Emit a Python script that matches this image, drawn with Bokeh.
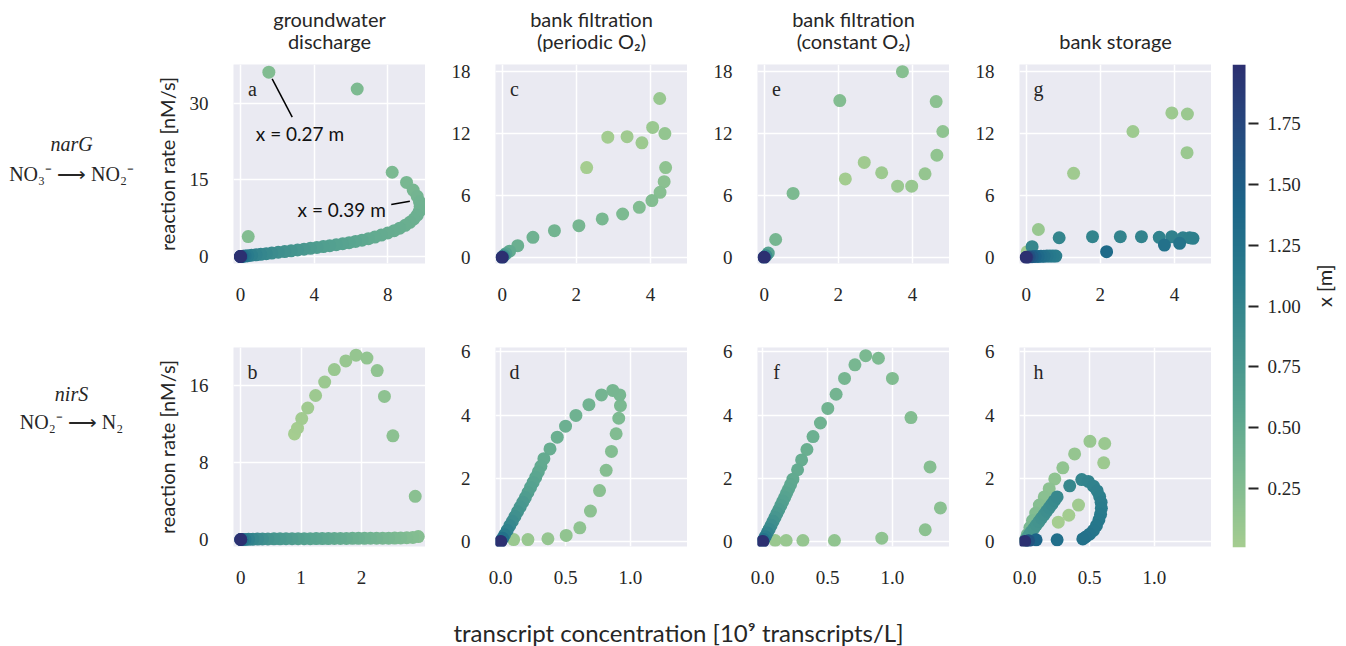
import numpy as np
from bokeh.plotting import figure
from bokeh.layouts import row, column
from bokeh.models import Range1d, LinearColorMapper, ColumnDataSource, FixedTicker, NumeralTickFormatter
from bokeh.core.properties import value
from bokeh.embed import file_html
from bokeh.resources import INLINE

# ---------------- data ----------------
# a: narG, groundwater discharge
a_conc = [0.42, 1.54, 6.34, 8.24, 9.02, 9.38, 9.6, 9.72, 9.76, 9.72,
          9.6, 9.42, 9.2, 8.95, 8.65, 8.35, 8.0, 7.65, 7.3, 6.95,
          6.6, 6.25, 5.9, 5.55, 5.2, 4.85, 4.5, 4.15, 3.8, 3.45,
          3.1, 2.75, 2.4, 2.05, 1.7, 1.4, 1.1, 0.85, 0.6, 0.4,
          0.25, 0.14, 0.07, 0.03, 0.0, 0.0, 0.0, 0.0]
a_rate = [3.9, 36.1, 32.8, 16.5, 14.5, 13.0, 11.8, 10.7, 9.8, 8.9,
          8.1, 7.35, 6.7, 6.1, 5.55, 5.05, 4.6, 4.2, 3.8, 3.5,
          3.2, 2.95, 2.7, 2.5, 2.3, 2.12, 1.95, 1.78, 1.6, 1.43,
          1.27, 1.12, 0.97, 0.83, 0.68, 0.55, 0.43, 0.33, 0.23, 0.15,
          0.09, 0.05, 0.02, 0.01, 0.0, 0.0, 0.0, 0.0]
a_x = [0.25, 0.27, 0.29, 0.31, 0.33, 0.35, 0.37, 0.39, 0.40, 0.41,
       0.42, 0.43, 0.44, 0.45, 0.46, 0.47, 0.48, 0.49, 0.50, 0.52,
       0.54, 0.56, 0.58, 0.60, 0.62, 0.64, 0.66, 0.69, 0.72, 0.75,
       0.78, 0.81, 0.84, 0.87, 0.91, 0.95, 0.99, 1.03, 1.08, 1.13,
       1.19, 1.26, 1.34, 1.43, 1.55, 1.70, 1.85, 1.99]

# b: nirS, groundwater discharge
b_conc = [0.89, 0.94, 1.01, 1.11, 1.24, 1.39, 1.55, 1.74, 1.91, 2.09,
          2.26, 2.38, 2.52, 2.89, 2.94, 2.85, 2.75, 2.65, 2.55, 2.45,
          2.35, 2.25, 2.15, 2.05, 1.95, 1.85, 1.75, 1.65, 1.55, 1.45,
          1.35, 1.25, 1.15, 1.05, 0.95, 0.85, 0.75, 0.65, 0.55, 0.45,
          0.36, 0.28, 0.2, 0.13, 0.07, 0.03, 0.0, 0.0, 0.0]
b_rate = [11.0, 11.6, 12.6, 13.7, 15.0, 16.4, 17.7, 18.6, 19.2, 18.9,
          17.6, 14.9, 10.8, 4.5, 0.3, 0.22, 0.18, 0.16, 0.15, 0.14,
          0.14, 0.13, 0.13, 0.12, 0.12, 0.12, 0.11, 0.11, 0.11, 0.10,
          0.10, 0.10, 0.09, 0.09, 0.09, 0.08, 0.08, 0.07, 0.07, 0.06,
          0.05, 0.04, 0.03, 0.02, 0.01, 0.0, 0.0, 0.0, 0.0]
b_x = [0.01, 0.025, 0.04, 0.055, 0.07, 0.085, 0.1, 0.115, 0.13, 0.145,
       0.16, 0.175, 0.19, 0.21, 0.23, 0.25, 0.27, 0.29, 0.31, 0.33,
       0.35, 0.37, 0.39, 0.41, 0.43, 0.45, 0.47, 0.49, 0.51, 0.53,
       0.55, 0.57, 0.59, 0.62, 0.65, 0.68, 0.71, 0.74, 0.78, 0.82,
       0.87, 0.92, 0.98, 1.05, 1.13, 1.23, 1.4, 1.7, 1.99]

# c: narG, bank filtration (periodic O2)
c_conc = [2.28, 2.85, 3.37, 3.77, 4.06, 4.25, 4.39, 4.41, 4.37, 4.26, 4.04, 3.70,
          3.25, 2.70, 2.07, 1.41, 0.83, 0.42, 0.2, 0.1, 0.05, 0.02, 0.0, 0.0]
c_rate = [8.7, 11.65, 11.7, 11.1, 12.6, 15.4, 12.0, 8.7, 7.34, 6.3, 5.5, 4.85,
          4.2, 3.72, 3.07, 2.58, 1.94, 1.13, 0.6, 0.35, 0.18, 0.07, 0.0, 0.0]
c_x = [0.01, 0.03, 0.05, 0.07, 0.09, 0.11, 0.14, 0.17, 0.2, 0.22, 0.25, 0.27,
       0.3, 0.32, 0.35, 0.38, 0.41, 0.44, 0.5, 0.6, 0.75, 0.95, 1.3, 1.99]

# d: nirS, bank filtration (periodic O2)
d_conc = [0.10, 0.21, 0.364, 0.505, 0.61, 0.692, 0.762, 0.813, 0.854, 0.89, 0.91,
          0.923, 0.918, 0.864, 0.777, 0.68, 0.58, 0.5, 0.436, 0.38, 0.333,
          0.31, 0.29, 0.27, 0.25, 0.23, 0.21, 0.19, 0.17, 0.15, 0.13, 0.11,
          0.09, 0.07, 0.05, 0.03, 0.015, 0.0, 0.0]
d_rate = [0.06, 0.06, 0.085, 0.19, 0.43, 0.96, 1.61, 2.25, 2.85, 3.41, 3.90,
          4.30, 4.64, 4.78, 4.64, 4.33, 3.99, 3.65, 3.30, 2.93, 2.62,
          2.38, 2.2, 2.03, 1.87, 1.71, 1.55, 1.39, 1.24, 1.09, 0.94, 0.79,
          0.64, 0.5, 0.35, 0.21, 0.1, 0.0, 0.0]
d_x = [0.09, 0.11, 0.13, 0.15, 0.17, 0.19, 0.21, 0.23, 0.25, 0.27, 0.29,
       0.31, 0.33, 0.35, 0.37, 0.39, 0.41, 0.43, 0.45, 0.47, 0.49,
       0.51, 0.53, 0.56, 0.59, 0.62, 0.65, 0.69, 0.73, 0.77, 0.81, 0.86,
       0.91, 0.97, 1.04, 1.12, 1.25, 1.5, 1.99]

# e: narG, bank filtration (constant O2)
e_conc = [2.19, 2.70, 3.17, 3.60, 3.98, 4.34, 4.66, 4.82, 4.64, 3.73, 2.04, 0.78,
          0.31, 0.11, 0.05, 0.0, 0.0]
e_rate = [7.6, 9.2, 8.2, 6.9, 6.9, 8.1, 9.9, 12.2, 15.1, 18.0, 15.2, 6.2,
          1.73, 0.42, 0.15, 0.0, 0.0]
e_x = [0.03, 0.05, 0.07, 0.09, 0.11, 0.13, 0.15, 0.17, 0.19, 0.22, 0.25, 0.3,
       0.35, 0.6, 0.9, 1.3, 1.99]

# f: nirS, bank filtration (constant O2)
f_conc = [0.096, 0.181, 0.31, 0.553, 0.918, 1.253, 1.37, 1.29, 1.143, 1.0, 0.892,
          0.794, 0.711, 0.631, 0.566, 0.502, 0.445, 0.388, 0.341, 0.30, 0.269, 0.233,
          0.215, 0.2, 0.185, 0.17, 0.155, 0.14, 0.125, 0.11, 0.095, 0.08, 0.065,
          0.05, 0.035, 0.02, 0.008, 0.0, 0.0]
f_rate = [0.03, 0.03, 0.03, 0.03, 0.105, 0.37, 1.06, 2.36, 3.92, 5.16, 5.80,
          5.88, 5.59, 5.16, 4.66, 4.21, 3.75, 3.32, 2.91, 2.58, 2.27, 1.97,
          1.8, 1.66, 1.53, 1.4, 1.27, 1.14, 1.01, 0.89, 0.76, 0.64, 0.51,
          0.39, 0.27, 0.15, 0.06, 0.0, 0.0]
f_x = [0.09, 0.11, 0.13, 0.15, 0.17, 0.19, 0.21, 0.23, 0.25, 0.27, 0.29,
       0.31, 0.33, 0.35, 0.37, 0.39, 0.41, 0.43, 0.45, 0.47, 0.49, 0.51,
       0.53, 0.55, 0.57, 0.6, 0.63, 0.66, 0.7, 0.74, 0.78, 0.83, 0.88,
       0.94, 1.01, 1.1, 1.22, 1.5, 1.99]

# g: narG, bank storage
g_conc = [0.03, 1.28, 2.88, 3.93, 4.35, 4.34, 0.33,
          0.16, 0.89, 1.79, 2.54, 3.11, 3.59, 3.93, 4.23, 4.41, 4.5,
          0.8, 0.72, 0.64, 0.56, 4.14, 3.73, 0.48, 0.4, 2.17, 0.32, 0.24, 0.16, 0.08, 0.02, 0.0]
g_rate = [0.55, 8.15, 12.2, 14.0, 13.9, 10.15, 2.7,
          1.03, 1.9, 2.0, 2.0, 2.0, 1.94, 2.0, 1.9, 1.9, 1.84,
          0.12, 0.12, 0.12, 0.12, 1.36, 1.19, 0.11, 0.1, 0.55, 0.09, 0.08, 0.06, 0.04, 0.01, 0.0]
g_x = [0.03, 0.05, 0.06, 0.07, 0.08, 0.09, 0.11,
       0.98, 1.0, 1.01, 1.02, 1.03, 1.04, 1.05, 1.06, 1.07, 1.08,
       1.1, 1.13, 1.16, 1.19, 1.22, 1.25, 1.27, 1.3, 1.33, 1.36, 1.43, 1.52, 1.65, 1.8, 1.99]

# h: nirS, bank storage
h_conc = [0.259, 0.34, 0.415, 0.609, 0.617, 0.503, 0.385, 0.294, 0.232, 0.189, 0.151, 0.113,
          0.085, 0.06, 0.04, 0.02, 0.005,
          0.005, 0.02, 0.035, 0.05, 0.07, 0.09, 0.11, 0.13, 0.15, 0.17, 0.19, 0.21, 0.23, 0.25,
          0.347, 0.44, 0.49, 0.53, 0.559, 0.578, 0.589, 0.591, 0.585, 0.572, 0.553, 0.53,
          0.5, 0.47, 0.448, 0.25, 0.088, 0.03, 0.0]
h_rate = [0.61, 0.83, 1.15, 2.49, 3.10, 3.17, 2.77, 2.33, 1.98, 1.67, 1.41, 1.15,
          0.9, 0.66, 0.44, 0.22, 0.05,
          0.03, 0.12, 0.21, 0.3, 0.41, 0.52, 0.63, 0.74, 0.85, 0.96, 1.07, 1.18, 1.3, 1.41,
          1.76, 1.96, 1.9, 1.75, 1.6, 1.42, 1.24, 1.05, 0.86, 0.68, 0.5, 0.35,
          0.23, 0.14, 0.08, 0.05, 0.05, 0.02, 0.0]
h_x = [0.01, 0.03, 0.05, 0.07, 0.09, 0.11, 0.13, 0.15, 0.17, 0.19, 0.21, 0.23,
       0.26, 0.29, 0.32, 0.36, 0.4,
       0.7, 0.72, 0.74, 0.76, 0.78, 0.8, 0.82, 0.84, 0.86, 0.88, 0.9, 0.92, 0.94, 0.96,
       0.98, 1.0, 1.02, 1.04, 1.06, 1.08, 1.1, 1.12, 1.14, 1.16, 1.18, 1.2,
       1.22, 1.24, 1.26, 1.3, 1.42, 1.6, 1.99]

col_titles = [["groundwater", "discharge"], ["bank filtration", "(periodic O\u2082)"],
              ["bank filtration", "(constant O\u2082)"], ["bank storage"]]
row_genes = ["narG", "nirS"]
row_reactions = ["NO\u2083\u207b \u27f6 NO\u2082\u207b", "NO\u2082\u207b \u27f6 N\u2082"]
ylab = "reaction rate [nM/s]"
xlab = "transcript concentration [10\u2079 transcripts/L]"
cbar_label = "x [m]"
cbar_ticks = [0.25, 0.5, 0.75, 1.0, 1.25, 1.5, 1.75]
X_LOW, X_HIGH = 0.01, 1.99

# ---------------- style ----------------
SANS = "Lato"
SERIF = "Liberation Serif"
TXT = "#262626"
BG = "#eaeaf2"
FW, FH = 192, 199
MS = 13

stops = [0, 1/7, 2/7, 3/7, 4/7, 5/7, 6/7, 1]
rgbs = [(165, 205, 144), (125, 186, 145), (89, 165, 144), (64, 144, 142),
        (40, 122, 140), (28, 100, 136), (37, 75, 127), (44, 48, 113)]
tt = np.linspace(0, 1, 256)
PAL = ["#%02x%02x%02x" % tuple(int(round(np.interp(v, stops, [c[k] for c in rgbs]))) for k in range(3))
       for v in tt]
mapper = LinearColorMapper(palette=PAL, low=X_LOW, high=X_HIGH)


def style_axis(ax, standoff, ticks, fmt=None):
    ax.ticker = FixedTicker(ticks=ticks)
    ax.axis_line_color = None
    ax.major_tick_line_color = None
    ax.minor_tick_line_color = None
    ax.major_tick_out = 0
    ax.major_tick_in = 0
    ax.minor_tick_out = 0
    ax.minor_tick_in = 0
    ax.major_label_standoff = standoff
    ax.major_label_text_font = SERIF
    ax.major_label_text_font_size = "19px"
    ax.major_label_text_color = TXT
    if fmt:
        ax.formatter = NumeralTickFormatter(format=fmt)


def panel(conc, rate, xs, xr, yr, xt, yt, letter, left, top, bottom, ylabel=None, xfmt=None):
    p = figure(frame_width=FW, frame_height=FH, x_range=Range1d(*xr), y_range=Range1d(*yr),
               min_border=0, min_border_left=left, min_border_right=0, min_border_top=top,
               min_border_bottom=bottom, toolbar_location=None, output_backend="svg",
               background_fill_color=BG, border_fill_color="white", outline_line_color=None)
    style_axis(p.xaxis[0], 24, xt, xfmt)
    style_axis(p.yaxis[0], 25, yt)
    p.xgrid.ticker = FixedTicker(ticks=xt)
    p.ygrid.ticker = FixedTicker(ticks=yt)
    p.grid.grid_line_color = "white"
    p.grid.grid_line_width = 1.5
    if ylabel:
        p.yaxis.axis_label = ylabel
        p.yaxis.axis_label_text_font = SANS
        p.yaxis.axis_label_text_font_size = "20px"
        p.yaxis.axis_label_text_font_style = "normal"
        p.yaxis.axis_label_text_color = TXT
        p.yaxis.axis_label_standoff = 8
    src = ColumnDataSource(dict(conc=conc, rate=rate, xpos=xs))
    p.scatter("conc", "rate", source=src, size=MS,
              fill_color={"field": "xpos", "transform": mapper}, line_color=None)
    lx = xr[0] + 19 / FW * (xr[1] - xr[0])
    ly = yr[1] - 24 / FH * (yr[1] - yr[0])
    p.text(x=[lx], y=[ly], text=[letter], text_font=value(SERIF), text_font_size="20px",
           text_align="center", text_baseline="middle", text_color=TXT)
    return p


def text_fig(w, h):
    f = figure(width=w, height=h, x_range=Range1d(0, w), y_range=Range1d(h, 0),
               min_border=0, toolbar_location=None, output_backend="svg",
               x_axis_location=None, y_axis_location=None, outline_line_color=None,
               background_fill_color=None, border_fill_color=None)
    f.grid.visible = False
    return f


LEFT_W = 148
L_FIRST, L_OTHER = 85, 70
T1, B1 = 8, 74
T2, B2 = 10, 56
TOP_H = 56
BOT_H = 44

XR_A, YR_A = (-0.38, 10.05), (-1.37, 37.6)
XR_B, YR_B = (-0.12, 3.06), (-0.73, 20.0)
XR_T, YR_T = (-0.18, 5.0), (-0.6, 18.7)
XR_N, YR_N = (-0.04, 1.44), (-0.16, 6.14)

pa = panel(a_conc, a_rate, a_x, XR_A, YR_A, [0, 4, 8], [0, 15, 30], "a", L_FIRST, T1, B1, ylab)
pc = panel(c_conc, c_rate, c_x, XR_T, YR_T, [0, 2, 4], [0, 6, 12, 18], "c", L_OTHER, T1, B1)
pe = panel(e_conc, e_rate, e_x, XR_T, YR_T, [0, 2, 4], [0, 6, 12, 18], "e", L_OTHER, T1, B1)
pg = panel(g_conc, g_rate, g_x, XR_T, YR_T, [0, 2, 4], [0, 6, 12, 18], "g", L_OTHER, T1, B1)
pb = panel(b_conc, b_rate, b_x, XR_B, YR_B, [0, 1, 2], [0, 8, 16], "b", L_FIRST, T2, B2, ylab)
pd = panel(d_conc, d_rate, d_x, XR_N, YR_N, [0, 0.5, 1], [0, 2, 4, 6], "d", L_OTHER, T2, B2, xfmt="0.0")
pf = panel(f_conc, f_rate, f_x, XR_N, YR_N, [0, 0.5, 1], [0, 2, 4, 6], "f", L_OTHER, T2, B2, xfmt="0.0")
ph = panel(h_conc, h_rate, h_x, XR_N, YR_N, [0, 0.5, 1], [0, 2, 4, 6], "h", L_OTHER, T2, B2, xfmt="0.0")

# annotations in panel a, placed relative to the labelled points
i1, i2 = 1, 7
pa.segment(x0=[a_conc[i1] + 0.18, a_conc[i2] - 1.53], y0=[a_rate[i1] - 1.3, a_rate[i2] - 0.5],
           x1=[a_conc[i1] + 1.27, a_conc[i2] - 0.52], y1=[a_rate[i1] - 8.8, a_rate[i2] + 0.1],
           line_color="black", line_width=1.5)
pa.text(x=[a_conc[i1] + 1.69, a_conc[i2] - 4.22], y=[a_rate[i1] - 12.05, a_rate[i2] - 1.5],
        text=["x = %.2f m" % a_x[i1], "x = %.2f m" % a_x[i2]], text_font=value(SANS),
        text_font_size="19px", text_align="center", text_baseline="middle", text_color="#111111")

MID_H = (T1 + FH + B1) + (T2 + FH + B2)

# colorbar
CB_H = 483
cb = figure(frame_width=16, frame_height=CB_H, x_range=Range1d(0, 16), y_range=Range1d(X_LOW, X_HIGH),
            min_border=0, min_border_left=21, min_border_right=60, min_border_top=T1,
            min_border_bottom=MID_H - CB_H - T1, toolbar_location=None, output_backend="svg",
            x_axis_location=None, y_axis_location="right", outline_line_color=None,
            background_fill_color="white", border_fill_color="white")
cb.grid.visible = False
grad = np.linspace(X_LOW, X_HIGH, 256).reshape(256, 1)
cb.image(image=[grad], x=0, y=X_LOW, dw=13, dh=X_HIGH - X_LOW, color_mapper=mapper)
ax = cb.yaxis[0]
ax.ticker = FixedTicker(ticks=cbar_ticks)
ax.formatter = NumeralTickFormatter(format="0.00")
ax.axis_line_color = None
ax.minor_tick_line_color = None
ax.major_tick_in = 0
ax.major_tick_out = 10
ax.major_tick_line_color = "#262626"
ax.major_tick_line_width = 2
ax.major_label_standoff = 9
ax.major_label_text_font = SERIF
ax.major_label_text_font_size = "19px"
ax.major_label_text_color = TXT

cbl = text_fig(30, MID_H)
cbl.text(x=[15], y=[250], text=[cbar_label], angle=np.pi / 2, text_font=value(SANS),
         text_font_size="20px", text_align="center", text_baseline="middle", text_color=TXT)

# left row labels
lf = text_fig(LEFT_W, MID_H)
lf.text(x=[71, 71], y=[90, 372], text=row_genes, text_font=value(SERIF), text_font_style="italic",
        text_font_size="20px", text_align="center", text_baseline="middle", text_color=TXT)
lf.text(x=[71, 71], y=[124, 404], text=row_reactions, text_font=value(SERIF),
        text_font_size="20px", text_align="center", text_baseline="middle", text_color=TXT)

TOTAL_W = LEFT_W + (L_FIRST + FW) + 3 * (L_OTHER + FW) + (21 + 16 + 60) + 30

# column titles
tf = text_fig(TOTAL_W, TOP_H)
cx = LEFT_W + L_FIRST + FW / 2
for k, lines in enumerate(col_titles):
    xc = cx + k * (L_OTHER + FW)
    ys = [18, 40] if len(lines) == 2 else [40]
    tf.text(x=[xc] * len(lines), y=ys, text=lines, text_font=value(SANS), text_font_size="20px",
            text_align="center", text_baseline="middle", text_color=TXT)

# bottom label
bf = text_fig(TOTAL_W, BOT_H)
bf.text(x=[678], y=[30], text=[xlab], text_font=value(SANS), text_font_size="24px",
        text_align="center", text_baseline="middle", text_color=TXT)

panels = column(row(pa, pc, pe, pg), row(pb, pd, pf, ph))
layout = column(tf, row(lf, panels, cb, cbl), bf)

open("out.html", "w").write(file_html(layout, INLINE))
